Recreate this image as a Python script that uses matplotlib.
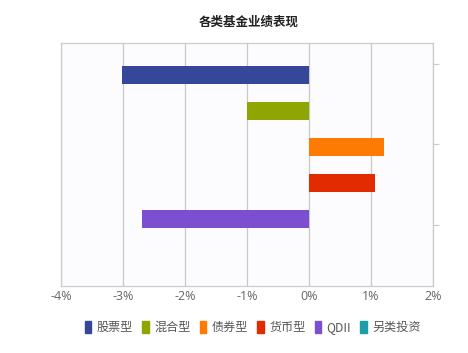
import matplotlib
matplotlib.use("Agg")
import matplotlib.pyplot as plt
from matplotlib.patches import Patch

# === DATA ===
title = "各类基金业绩表现"
series = ["股票型", "混合型", "债券型", "货币型", "QDII", "另类投资"]
values = [-3.02, -1.0, 1.21, 1.06, -2.69, 0.0]
colors = ["#36479a", "#8fa500", "#ff7a00", "#e32b00", "#7b4fd0", "#1f9bab"]
xticks = [-4, -3, -2, -1, 0, 1, 2]
xticklabels = ["-4%", "-3%", "-2%", "-1%", "0%", "1%", "2%"]

plt.rcParams["font.family"] = ["Noto Sans CJK SC", "DejaVu Sans"]

# === RENDER ===
fig = plt.figure(figsize=(4.68, 3.53), dpi=100)
fig.patch.set_facecolor("white")
ax = fig.add_axes([0.130, 0.190, 0.795, 0.688])
ax.set_facecolor("#fcfbfe")

for i, (v, c) in enumerate(zip(values, colors)):
    ax.barh(i, v, height=0.5, color=c, zorder=3)

ax.set_xlim(-4, 2)
ax.set_ylim(5.86, -0.89)
ax.set_xticks(xticks)
ax.set_xticklabels(xticklabels, color="#666666", fontsize=9,
                   family=["Open Sans", "DejaVu Sans"])
ax.tick_params(axis="x", length=0, pad=3)
ax.grid(axis="x", color="#c8c8c8", linewidth=0.9, zorder=0)

# right-side ticks
ax.yaxis.tick_right()
ax.set_yticks([-0.3, 1.92, 4.17])
ax.set_yticklabels([])
ax.tick_params(axis="y", length=4, color="#cccccc", width=0.9)

for s in ax.spines.values():
    s.set_color("#cccccc")
    s.set_linewidth(0.9)

fig.text(0.532, 0.937, title, ha="center", va="center", fontsize=9,
         fontweight="bold", color="#222222")

handles = [Patch(facecolor=c, edgecolor=c) for c in colors]
leg = fig.legend(handles, series, loc="center", bbox_to_anchor=(0.540, 0.072),
                 ncol=6, frameon=False, fontsize=8.7, handlelength=0.55,
                 handleheight=1.1, handletextpad=0.45, columnspacing=0.75)
for t in leg.get_texts():
    t.set_color("#555555")

plt.savefig("out.png", dpi=100)
plt.close()
